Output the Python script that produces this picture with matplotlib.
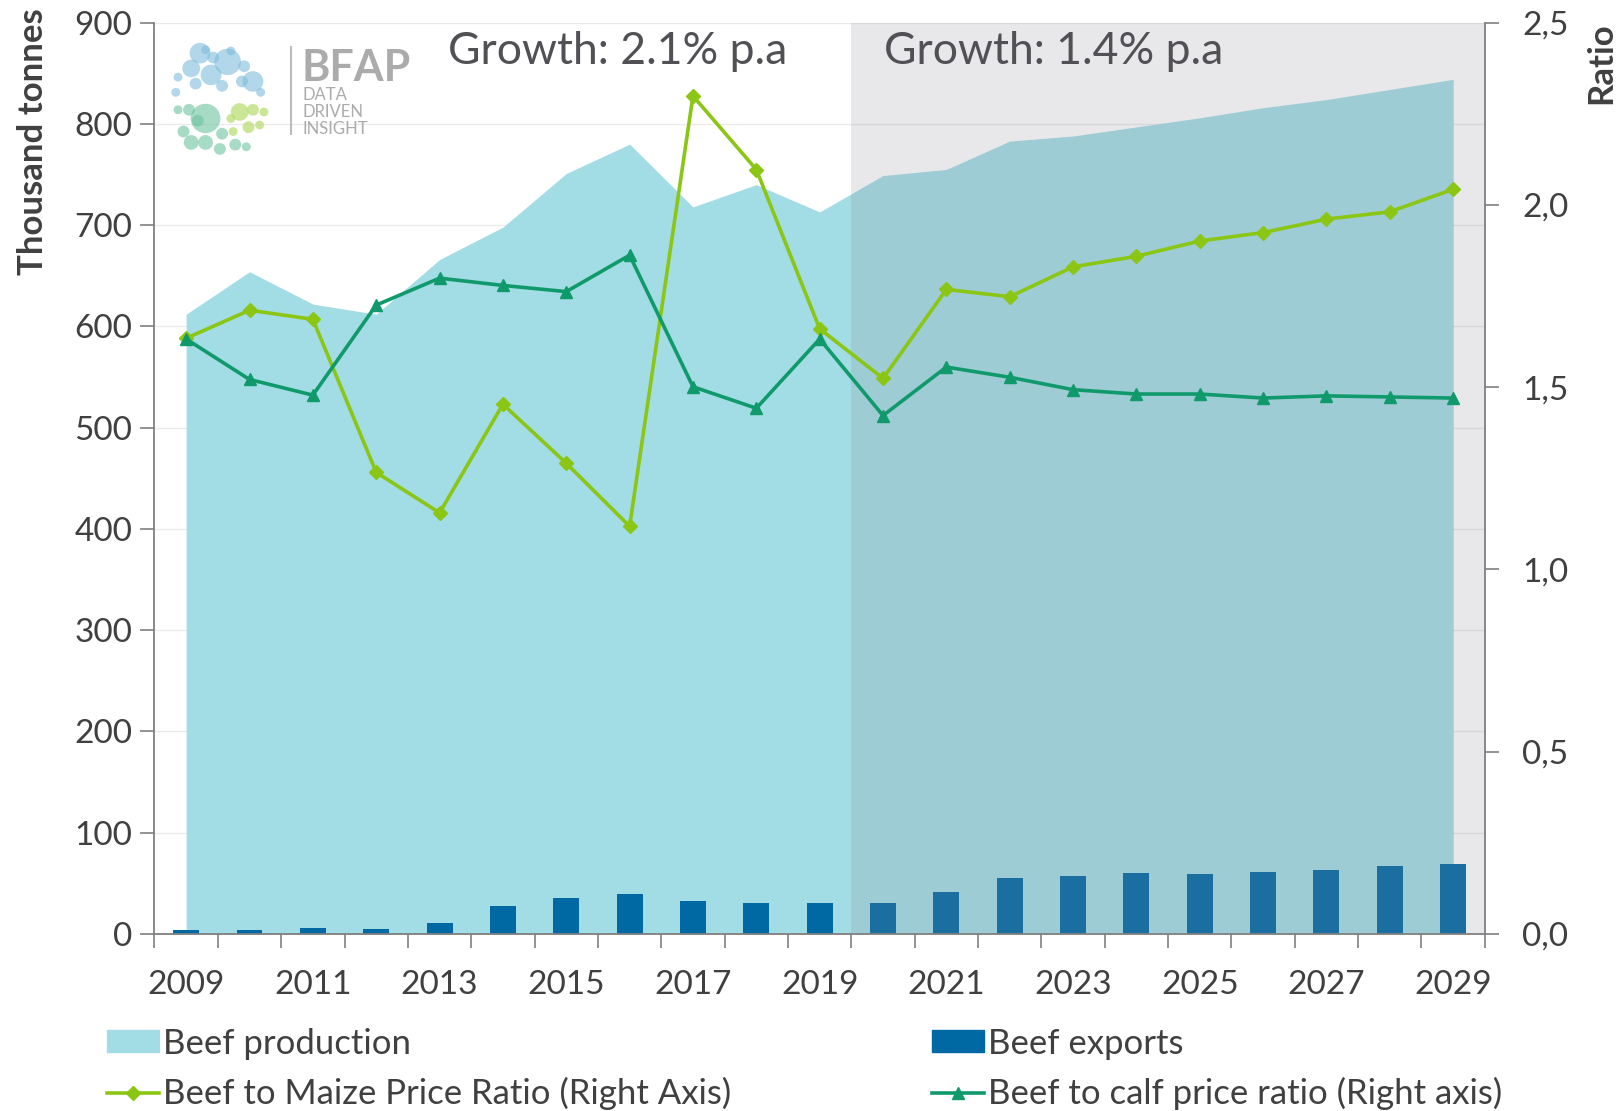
import numpy as np
import matplotlib
matplotlib.use('Agg')
import matplotlib.pyplot as plt
from matplotlib.patches import Patch
from matplotlib.lines import Line2D

plt.rcParams['font.family'] = ['Lato', 'DejaVu Sans']

# Дані
years = list(range(2009, 2030))
production = [612, 654, 622, 612, 666, 698, 751, 780, 718, 740, 713,
              749, 755, 783, 788, 797, 806, 816, 824, 834, 844]
exports = [4, 3.5, 6, 5, 11, 27.5, 35.5, 39, 32, 30, 30,
           30, 41, 55, 57, 60, 59, 61, 63, 67, 69]
maize_ratio = [1.634, 1.711, 1.686, 1.266, 1.155, 1.453, 1.291, 1.118, 2.299, 2.097, 1.660,
               1.524, 1.768, 1.748, 1.830, 1.859, 1.901, 1.924, 1.961, 1.981, 2.043]
calf_ratio = [1.632, 1.521, 1.478, 1.725, 1.799, 1.779, 1.762, 1.862, 1.501, 1.442, 1.632,
              1.422, 1.555, 1.527, 1.493, 1.481, 1.481, 1.470, 1.476, 1.473, 1.470]
growth_labels = ['Growth: 2.1% p.a', 'Growth: 1.4% p.a']
outlook_start = 2020

c_area = '#A2DCE4'
c_bar = '#0068A3'
c_maize = '#8CC614'
c_calf = '#109A6C'
c_text = '#404040'
c_spine = '#7F7F7F'
fs = 24

x = np.arange(len(years))

fig = plt.figure(figsize=(16.21, 11.11), dpi=100)
ax = fig.add_axes([0.0953, 0.1595, 0.8207, 0.8201])

# Площа та стовпці
ax.fill_between(x, production, color=c_area, linewidth=0, zorder=1)
ax.bar(x, exports, width=0.41, color=c_bar, zorder=2)

# Затінення прогнозного періоду
i0 = years.index(outlook_start)
ax.axvspan(i0 - 0.5, len(years) - 0.5, color='#8C8C96', alpha=0.2, linewidth=0, zorder=3)

ax.set_xlim(-0.5, len(years) - 0.5)
ax.set_ylim(0, 900)
ax.set_yticks(np.arange(0, 901, 100))
ax.yaxis.grid(True, color='#EBEBEB', linewidth=1)
ax.set_axisbelow(True)

# Ось X: риски між категоріями, підписи через рік
ax.set_xticks(np.arange(-0.5, len(years), 1.0))
ax.set_xticklabels([])
ax.set_xticks(x[::2], minor=True)
ax.set_xticklabels([str(y) for y in years[::2]], minor=True)
ax.tick_params(axis='x', which='major', length=10, color=c_spine, width=1.2)
ax.tick_params(axis='x', which='minor', length=0, pad=26, labelsize=fs, labelcolor=c_text)
ax.tick_params(axis='y', length=10, color=c_spine, width=1.2, labelsize=fs, labelcolor=c_text, pad=6)

for s in ['top', 'right']:
    ax.spines[s].set_visible(False)
for s in ['left', 'bottom']:
    ax.spines[s].set_color(c_spine)
    ax.spines[s].set_linewidth(1.3)

ax.set_ylabel('Thousand tonnes', fontsize=25, fontweight='bold', color=c_text, loc='top')
ax.yaxis.set_label_coords(-0.079, 1.016)

# Права вісь
ax2 = ax.twinx()
ax2.plot(x, maize_ratio, color=c_maize, linewidth=2.6, marker='D', markersize=7, zorder=5)
ax2.plot(x, calf_ratio, color=c_calf, linewidth=2.6, marker='^', markersize=9, zorder=5)
ax2.set_ylim(0, 2.5)
ax2.set_yticks(np.arange(0, 2.51, 0.5))
ax2.set_yticklabels([f'{v:.1f}'.replace('.', ',') for v in np.arange(0, 2.51, 0.5)])
ax2.tick_params(axis='y', length=10, color=c_spine, width=1.2, labelsize=fs, labelcolor=c_text, pad=17)
for s in ['top', 'left', 'bottom']:
    ax2.spines[s].set_visible(False)
ax2.spines['right'].set_color(c_spine)
ax2.spines['right'].set_linewidth(1.3)
ax2.set_ylabel('Ratio', fontsize=25, fontweight='bold', color=c_text, loc='top', labelpad=12)

# Підписи росту
ax.text(0.2204, 0.968, growth_labels[0], transform=ax.transAxes, fontsize=32, color='#505055', va='center')
ax.text(0.5487, 0.968, growth_labels[1], transform=ax.transAxes, fontsize=32, color='#505055', va='center')

# Логотип
lax = fig.add_axes([0.103, 0.862, 0.068, 0.098])
lax.set_xlim(0, 1)
lax.set_ylim(0, 1)
lax.axis('off')
blue_c = [(0.30, 0.92, 0.07), (0.22, 0.78, 0.06), (0.42, 0.88, 0.04), (0.55, 0.84, 0.09),
          (0.40, 0.72, 0.07), (0.26, 0.64, 0.04), (0.50, 0.62, 0.04), (0.70, 0.80, 0.04),
          (0.78, 0.66, 0.07), (0.68, 0.66, 0.04), (0.10, 0.70, 0.03), (0.58, 0.94, 0.03),
          (0.85, 0.56, 0.03), (0.08, 0.56, 0.03), (0.35, 0.95, 0.03)]
green_c = [(0.35, 0.32, 0.10), (0.10, 0.40, 0.03), (0.20, 0.40, 0.04), (0.15, 0.20, 0.04),
           (0.22, 0.10, 0.05), (0.35, 0.10, 0.05), (0.48, 0.04, 0.04), (0.50, 0.18, 0.04),
           (0.62, 0.08, 0.04), (0.72, 0.06, 0.03), (0.28, 0.30, 0.04)]
lime_c = [(0.66, 0.38, 0.06), (0.78, 0.40, 0.04), (0.58, 0.32, 0.03), (0.74, 0.24, 0.04),
          (0.84, 0.26, 0.03), (0.88, 0.38, 0.03), (0.60, 0.20, 0.03)]
for cx, cy, r in blue_c:
    lax.add_patch(plt.Circle((cx, cy), r * 1.35, color='#7FBDDC', alpha=0.6, linewidth=0, clip_on=False))
for cx, cy, r in green_c:
    lax.add_patch(plt.Circle((cx, cy), r * 1.35, color='#6CC3A0', alpha=0.6, linewidth=0, clip_on=False))
for cx, cy, r in lime_c:
    lax.add_patch(plt.Circle((cx, cy), r * 1.35, color='#B5DC6A', alpha=0.7, linewidth=0, clip_on=False))
fig.add_artist(Line2D([0.1795, 0.1795], [0.879, 0.958], color='#BBBBBB', linewidth=1.5))
fig.text(0.186, 0.957, 'BFAP', fontsize=31, fontweight='bold', color='#ABABAB', va='top')
fig.text(0.1865, 0.922, 'DATA\nDRIVEN\nINSIGHT', fontsize=12, color='#ABABAB', va='top', linespacing=1.1)

# Легенда
handles = [Patch(color=c_area),
           Line2D([], [], color=c_maize, linewidth=2.6, marker='D', markersize=7),
           Patch(color=c_bar),
           Line2D([], [], color=c_calf, linewidth=2.6, marker='^', markersize=9)]
labels = ['Beef production', 'Beef to Maize Price Ratio (Right Axis)',
          'Beef exports', 'Beef to calf price ratio (Right axis)']
fig.legend(handles, labels, loc='upper left', bbox_to_anchor=(0.0575, 0.0875), ncol=2,
           frameon=False, fontsize=25, labelcolor=c_text, handlelength=1.5, handleheight=0.6,
           handletextpad=0.1, columnspacing=5.8, labelspacing=0.5, borderaxespad=0)

fig.savefig('out.png', dpi=100)
